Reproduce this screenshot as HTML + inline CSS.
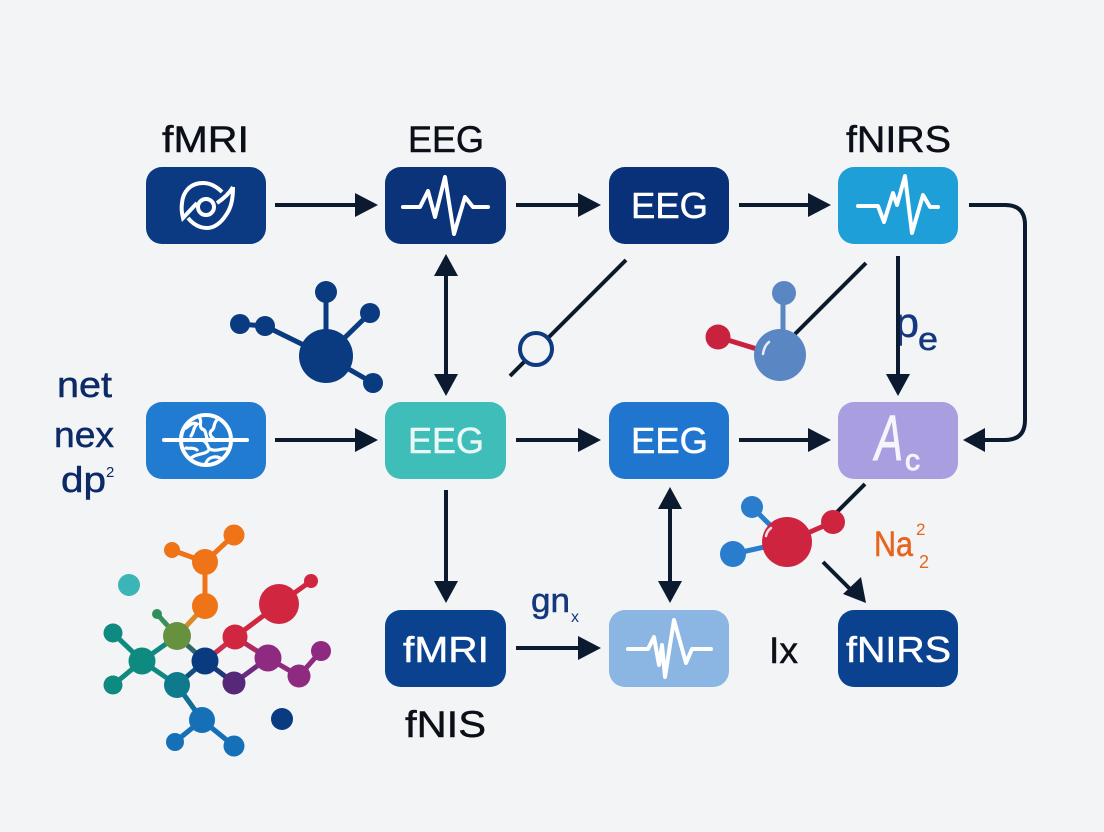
<!DOCTYPE html>
<html><head><meta charset="utf-8"><style>
html,body{margin:0;padding:0;background:#f3f4f6}
svg{display:block}
text{font-family:"Liberation Sans",sans-serif}
</style></head><body>
<svg width="1104" height="832" viewBox="0 0 1104 832" xmlns="http://www.w3.org/2000/svg">
<rect width="1104" height="832" fill="#f3f4f6"/>

<!-- boxes -->
<g>
<rect x="146" y="167" width="120" height="77" rx="16" fill="#0b3a82"/>
<rect x="385" y="167" width="121" height="77" rx="16" fill="#0a3379"/>
<rect x="609" y="167" width="120" height="77" rx="16" fill="#08317a"/>
<rect x="838" y="167" width="120" height="77" rx="16" fill="#1f9fd8"/>
<rect x="146" y="402" width="120" height="77" rx="16" fill="#217bd0"/>
<rect x="385" y="402" width="121" height="77" rx="16" fill="#3fbdb9"/>
<rect x="609" y="402" width="120" height="77" rx="16" fill="#2076cf"/>
<rect x="838" y="402" width="120" height="77" rx="16" fill="#a99fe0"/>
<rect x="385" y="610" width="121" height="77" rx="16" fill="#0b4290"/>
<rect x="609" y="610" width="120" height="77" rx="16" fill="#8bb6e4"/>
<rect x="838" y="610" width="120" height="77" rx="16" fill="#0b4290"/>
</g>

<!-- black labels -->
<g fill="#0b0f18" stroke="#0b0f18" stroke-width=".5" font-size="37">
<text x="162" y="152" textLength="87" lengthAdjust="spacingAndGlyphs">fMRI</text>
<text x="408" y="152" textLength="76" lengthAdjust="spacingAndGlyphs">EEG</text>
<text x="846" y="152" textLength="105" lengthAdjust="spacingAndGlyphs">fNIRS</text>
<text x="405" y="737" textLength="81" lengthAdjust="spacingAndGlyphs">fNIS</text>
<text x="769" y="663" textLength="29" lengthAdjust="spacingAndGlyphs">Ix</text>
</g>

<!-- in-box labels -->
<g fill="#fff" stroke="#fff" stroke-width=".5" font-size="36">
<text x="631" y="218" textLength="77" lengthAdjust="spacingAndGlyphs">EEG</text>
<text x="408" y="453" textLength="76" lengthAdjust="spacingAndGlyphs" fill="#e9f8f6" stroke="#e9f8f6">EEG</text>
<text x="631" y="453" textLength="77" lengthAdjust="spacingAndGlyphs">EEG</text>
<text x="403" y="662" textLength="86" lengthAdjust="spacingAndGlyphs">fMRI</text>
<text x="846" y="662" textLength="105" lengthAdjust="spacingAndGlyphs">fNIRS</text>
<text x="875" y="460" font-size="64" font-style="italic" textLength="28" lengthAdjust="spacingAndGlyphs" fill="#f6f4fd" stroke="#f6f4fd" stroke-width="1">A</text>
<text x="905" y="470" font-size="30" textLength="15" lengthAdjust="spacingAndGlyphs" fill="#f6f4fd" stroke="#f6f4fd" stroke-width="1">c</text>
</g>

<!-- navy labels -->
<g fill="#0c2a66" stroke="#0c2a66" stroke-width=".5" font-size="36">
<text x="57" y="397" textLength="55" lengthAdjust="spacingAndGlyphs">net</text>
<text x="54" y="447" textLength="60" lengthAdjust="spacingAndGlyphs">nex</text>
<text x="61" y="492" textLength="45" lengthAdjust="spacingAndGlyphs">dp</text>
<text x="106" y="477" font-size="15" stroke="none">2</text>
<g fill="#14377e" stroke="#14377e">
<text x="531" y="612" font-size="34" textLength="39" lengthAdjust="spacingAndGlyphs">gn</text>
<text x="571" y="622" font-size="16" stroke="none">x</text>
<text x="895" y="337" font-size="42" textLength="24" lengthAdjust="spacingAndGlyphs">p</text>
<text x="918" y="350" font-size="32" textLength="20" lengthAdjust="spacingAndGlyphs">e</text>
</g>
</g>

<!-- orange label -->
<g fill="#e8641c" stroke="#e8641c" stroke-width=".5">
<text x="874" y="556" font-size="35" textLength="39" lengthAdjust="spacingAndGlyphs">Na</text>
<text x="916" y="535" font-size="17" stroke="none">2</text>
<text x="919" y="568" font-size="18" stroke="none">2</text>
</g>

<!-- connector lines -->
<g stroke="#0b1a2e" stroke-width="4" fill="none">
<path d="M275 205H360M516 205H585M739 205H815"/>
<path d="M275 440H360M516 440H585M739 440H815"/>
<path d="M516 648H585"/>
<path d="M446 272V378M446 490V585M670 505V585M898 256V378"/>
<path d="M969 205H1005Q1025 205 1025 225V420Q1025 440 1005 440H980"/>
<path d="M626 260L510 376"/>
<path d="M866 263L795 334"/>
<path d="M865 484L837 512"/>
<path d="M823 562L850 589"/>
</g>
<!-- arrowheads -->
<g fill="#0b1a2e">
<path d="M378 205L355 193V217Z"/><path d="M601 205L578 193V217Z"/><path d="M831 205L808 193V217Z"/>
<path d="M378 440L355 428V452Z"/><path d="M601 440L578 428V452Z"/><path d="M831 440L808 428V452Z"/>
<path d="M601 648L578 636V660Z"/>
<path d="M446 254L434 276H458Z"/><path d="M446 396L434 374H458Z"/>
<path d="M446 603L434 581H458Z"/>
<path d="M670 487L658 509H682Z"/><path d="M670 603L658 581H682Z"/>
<path d="M898 396L886 374H910Z"/>
<path d="M963 440L985 428V452Z"/>
<path d="M866 603L843 594L861 577Z"/>
</g>
<circle cx="536" cy="349" r="16" fill="#f3f4f6" stroke="#0f3a80" stroke-width="4"/>

<!-- pulse icons -->
<g fill="none" stroke="#fff" stroke-width="4" stroke-linejoin="round" stroke-linecap="round">
<polyline points="403,207 420,207 428,191 435,217 445,177 454,234 465,197 473,207 488,207"/>
<polyline points="858,206 878,206 884,222 893,193 897,205 905,176 912,233 923,195 930,207 938,207"/>
<polyline points="628,649 648,649 654,637 659,665 662,645 665,677 674,620 686,663 692,649 711,649"/>
</g>

<!-- eye icon -->
<g fill="none" stroke="#fff" stroke-width="4">
<path d="M222 192C216 186 210 183 203 183C190 183 183 192 182 203C181 209 182 214 183 218L197 203"/>
<path d="M233 187C233 200 231 208 226 215C221 223 214 228 207 228C199 228 193 224 188 218"/>
<path d="M233 187C229 194 223 199 217 203"/>
<circle cx="206" cy="207" r="8"/>
</g>

<!-- globe/brain icon -->
<g fill="none" stroke="#fff" stroke-linecap="round">
<circle cx="206" cy="440" r="25" stroke-width="4"/>
<path d="M164 440H247" stroke-width="4"/>
<g stroke-width="3.2">
<path d="M186 428C191 424 194 422 197 424C193 428 194 432 191 436"/>
<path d="M199 417C203 422 198 425 202 429C207 430 205 436 208 440"/>
<path d="M218 419C212 424 216 428 211 431C209 434 211 437 214 439"/>
<path d="M204 441C210 445 206 449 213 450C218 451 222 448 228 449"/>
<path d="M191 458C197 453 204 455 208 451"/>
<path d="M206 463C208 457 216 455 222 459"/>
<path d="M186 448C191 449 193 447 197 450"/>
</g>
</g>

<!-- network molecule 1 -->
<g stroke="#0a3a80" stroke-width="5" fill="#0a3a80">
<path d="M326 356L326 292M326 356L370 313M326 356L265 326L240 324M326 356L373 383" fill="none"/>
<g stroke="none">
<circle cx="326" cy="356" r="27"/><circle cx="326" cy="292" r="11"/><circle cx="370" cy="313" r="10"/>
<circle cx="240" cy="324" r="10"/><circle cx="265" cy="326" r="10"/><circle cx="373" cy="383" r="10"/>
</g>
</g>

<!-- molecule 2 -->
<path d="M783 293V340" stroke="#5b86c4" stroke-width="5"/>
<path d="M718 337L770 353" stroke="#c9223f" stroke-width="5"/>
<circle cx="780" cy="355" r="26" fill="#5b86c4"/>
<circle cx="784" cy="293" r="12" fill="#5b86c4"/>
<circle cx="718" cy="337" r="12.5" fill="#c9223f"/>
<path d="M763 354Q764 346 769 342" stroke="#fff" stroke-width="2.5" fill="none" stroke-linecap="round" opacity=".85"/>

<!-- molecule 3 -->
<path d="M752 507L787 542L733 554" stroke="#2a7ccc" stroke-width="5" fill="none"/>
<path d="M787 542L833 522" stroke="#cf2440" stroke-width="5"/>
<circle cx="752" cy="507" r="11" fill="#2a7ccc"/>
<circle cx="733" cy="554" r="13" fill="#2a7ccc"/>
<circle cx="787" cy="542" r="25" fill="#cf2440"/>
<circle cx="833" cy="522" r="12" fill="#cf2440"/>
<path d="M766 536Q767 531 771 528" stroke="#fff" stroke-width="2.5" fill="none" stroke-linecap="round" opacity=".85"/>

<!-- multicolour network -->
<g fill="none" stroke-width="5">
<path d="M234 535L205 562L172 550M205 562V606" stroke="#ee7417"/>
<path d="M205 606L177 636" stroke="#d98a2a"/>
<path d="M157 614L177 636" stroke="#3b8f5e"/>
<path d="M113 633L142 661L113 685M142 661L177 636M142 661L177 685" stroke="#0f8a80"/>
<path d="M177 636L205 661" stroke="#2c6a6a"/>
<path d="M177 685L205 661" stroke="#0f4f80"/>
<path d="M177 685L202 720" stroke="#0f6f98"/>
<path d="M175 742L202 720L234 746" stroke="#1670b8"/>
<path d="M205 661L235 637" stroke="#c9304f"/>
<path d="M205 661L234 683" stroke="#1d3a78"/>
<path d="M235 637L279 604L311 581" stroke="#d1263f"/>
<path d="M235 637L268 658" stroke="#b02a60"/>
<path d="M234 683L268 658" stroke="#6e2a80"/>
<path d="M268 658L299 676L321 651" stroke="#8e2a80"/>
</g>
<g>
<circle cx="234" cy="535" r="10.5" fill="#ee7417"/><circle cx="172" cy="550" r="8" fill="#ee7417"/>
<circle cx="205" cy="562" r="13" fill="#ee7417"/><circle cx="205" cy="606" r="13" fill="#ee7417"/>
<circle cx="177" cy="636" r="14" fill="#66923f"/><circle cx="157" cy="614" r="5" fill="#2f8f5c"/>
<circle cx="113" cy="633" r="9.5" fill="#0f8a80"/><circle cx="142" cy="661" r="13.5" fill="#0f8a80"/>
<circle cx="113" cy="685" r="9.5" fill="#0f8a80"/><circle cx="177" cy="685" r="13" fill="#0f7a8c"/>
<circle cx="205" cy="661" r="13.5" fill="#0a3a80"/><circle cx="235" cy="637" r="12.5" fill="#d1263f"/>
<circle cx="279" cy="604" r="20" fill="#d1263f"/><circle cx="311" cy="581" r="7" fill="#d1263f"/>
<circle cx="268" cy="658" r="13.5" fill="#8e2a80"/><circle cx="321" cy="651" r="10" fill="#8e2a80"/>
<circle cx="299" cy="676" r="11.5" fill="#8e2a80"/><circle cx="234" cy="683" r="11.5" fill="#562878"/>
<circle cx="202" cy="720" r="13" fill="#1670b8"/><circle cx="175" cy="742" r="9" fill="#1670b8"/>
<circle cx="234" cy="746" r="10.5" fill="#1670b8"/><circle cx="129" cy="585" r="11" fill="#3bb5b5"/>
<circle cx="282" cy="719" r="11" fill="#0a3a80"/>
</g>
</svg>
</body></html>
